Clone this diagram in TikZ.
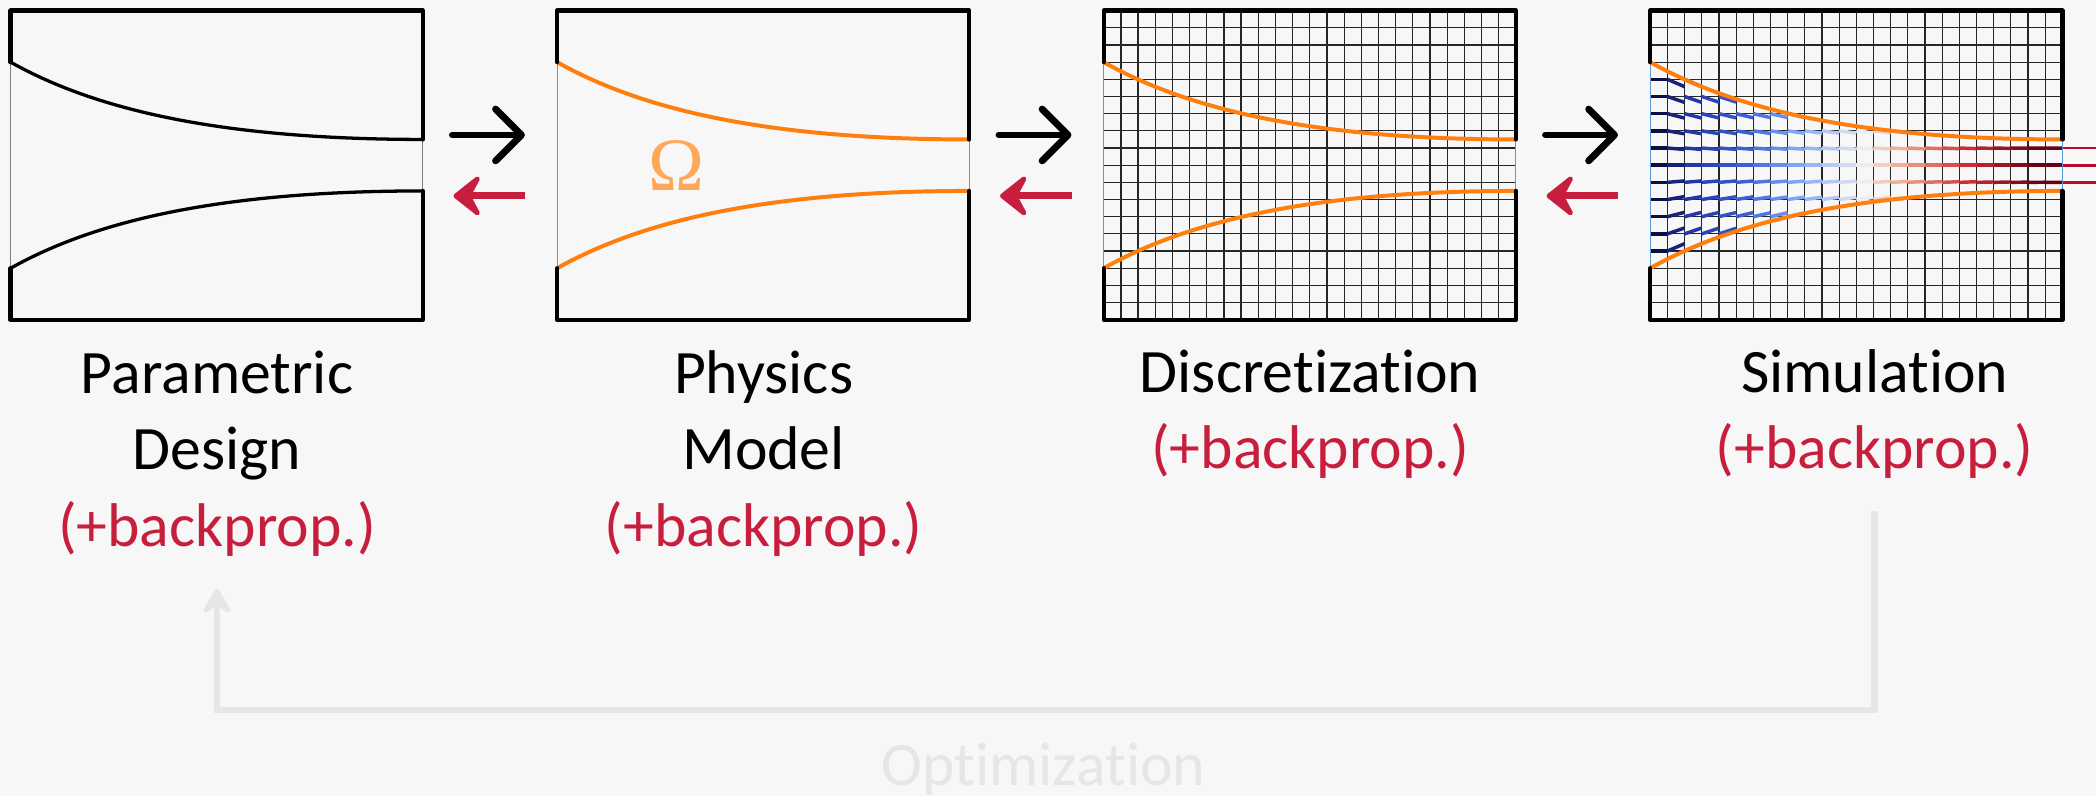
\documentclass[tikz,border=0pt]{standalone}
\usepackage{fontspec}
\setmainfont{Carlito}[Ligatures=NoCommon]
\newfontfamily\omegafont{Liberation Serif}
\usepackage{tikz}
\usetikzlibrary{arrows.meta,positioning,calc}

\definecolor{bgcol}{HTML}{F7F7F7}
\definecolor{bpred}{HTML}{C81E3E}
\definecolor{domorange}{HTML}{FF7F0E}
\definecolor{omegaorange}{HTML}{FFA857}
\definecolor{bndblue}{HTML}{5B9BD5}
\definecolor{optgray}{HTML}{E6E6E6}
\definecolor{outred}{HTML}{B90A32}
% colour stops of the flow field (columns 0,2,5,8,12,14,18,22)
\definecolor{flowA}{RGB}{10,16,70}
\definecolor{flowB}{RGB}{35,55,170}
\definecolor{flowC}{RGB}{60,95,215}
\definecolor{flowD}{RGB}{125,165,248}
\definecolor{flowE}{RGB}{238,236,238}
\definecolor{flowF}{RGB}{242,175,150}
\definecolor{flowG}{RGB}{205,45,55}
\definecolor{flowH}{RGB}{105,0,20}

\newcommand\setflowcolour[1]{%
  \ifnum#1<2 \pgfmathtruncatemacro\mixp{100*#1/2}\colorlet{segcol}{flowB!\mixp!flowA}%
  \else\ifnum#1<5 \pgfmathtruncatemacro\mixp{100*(#1-2)/3}\colorlet{segcol}{flowC!\mixp!flowB}%
  \else\ifnum#1<8 \pgfmathtruncatemacro\mixp{100*(#1-5)/3}\colorlet{segcol}{flowD!\mixp!flowC}%
  \else\ifnum#1<12 \pgfmathtruncatemacro\mixp{100*(#1-8)/4}\colorlet{segcol}{flowE!\mixp!flowD}%
  \else\ifnum#1<14 \pgfmathtruncatemacro\mixp{100*(#1-12)/2}\colorlet{segcol}{flowF!\mixp!flowE}%
  \else\ifnum#1<18 \pgfmathtruncatemacro\mixp{100*(#1-14)/4}\colorlet{segcol}{flowG!\mixp!flowF}%
  \else\ifnum#1<22 \pgfmathtruncatemacro\mixp{100*(#1-18)/4}\colorlet{segcol}{flowH!\mixp!flowG}%
  \else \colorlet{segcol}{flowH}%
  \fi\fi\fi\fi\fi\fi\fi}

% half width of the channel (in cells) at every mesh column
\def\halfwidth{{6.00,5.47,5.00,4.57,4.19,3.85,3.54,3.27,3.02,2.80,2.61,2.43,2.27,2.13,2.01,1.91,1.81,1.74,1.67,1.61,1.575,1.54,1.52,1.507,1.50}}

\tikzset{
  panel/.style={minimum width=8.4cm, minimum height=6.3cm, inner sep=0pt, anchor=north west},
  wall/.style={line width=2.5pt, line cap=round, line join=round},
  profile/.style={line width=2.3pt},
  opening/.style={line width=0.6pt},
  mesh/.style={line width=0.7pt, black!85, step=1},
  streak/.style={line width=2pt},
  fwd/.style={line width=4pt, line cap=round, -{Straight Barb[round,length=15pt,width=30pt]}},
  bwd/.style={bpred, line width=4pt, -{Stealth[round,length=19pt,width=30pt,inset=8pt]}},
  title/.style={font=\fontsize{35.8pt}{44.5pt}\selectfont, align=center, inner sep=0pt, anchor=base},
  optflow/.style={optgray, line width=4pt, -{Stealth[round,length=18pt,width=21pt,inset=7pt]}}
}

\begin{document}
\begin{tikzpicture}[x=0.35cm, y=0.35cm]
  \fill[bgcol] (0,0) rectangle (122.07,-46.36);
  \useasboundingbox (0,0) rectangle (122.07,-46.36);

  % the four panels, 24 x 18 cells each
  \foreach \k in {1,...,4}
    \node[panel] (p\k) at ({0.62+31.83*(\k-1)},-0.62) {};

  % meshes
  \foreach \k in {3,4}
    \draw[mesh, shift={(p\k.north west)}] (0,0) grid (24,-18);

  % flow field
  \begin{scope}[shift={(p4.north west)}]
    \foreach \i in {0,...,23} {
      \pgfmathsetmacro\ha{\halfwidth[\i]}
      \pgfmathsetmacro\hb{\halfwidth[\i+1]}
      \setflowcolour{\i}
      \foreach \d in {-5,...,5} {
        \pgfmathtruncatemacro\inside{abs(\d) < \ha + 0.02}
        \ifnum\inside=1
          \pgfmathsetmacro\ya{-9-(\d)}
          \ifnum\i=0 \pgfmathsetmacro\yb{\ya}\else\pgfmathsetmacro\yb{-9-(\d)*\hb/\ha}\fi
          \draw[streak, segcol] (\i,\ya) -- (\i+1,\yb);
        \fi
      }
    }
    \foreach \d in {-1,0,1}
      \draw[streak, outred, line width=1.7pt] (24,-9-\d) -- (26.5,-9-\d);
  \end{scope}

  % parametric design
  \begin{scope}[shift={(p1.north west)}]
    \draw[opening, gray] (0,-3) -- (0,-15) (24,-7.5) -- (24,-10.5);
    \draw[profile, line width=1.9pt] (0,-3) .. controls (4.8,-5.7) and (12,-7.5) .. (24,-7.5);
    \draw[profile, line width=1.9pt] (0,-15) .. controls (4.8,-12.3) and (12,-10.5) .. (24,-10.5);
    \draw[wall] (0,-3) -- (0,0) -- (24,0) -- (24,-7.5);
    \draw[wall] (0,-15) -- (0,-18) -- (24,-18) -- (24,-10.5);
  \end{scope}

  % domain boundaries
  \foreach \k in {2,3,4} {
    \begin{scope}[shift={(p\k.north west)}]
      \draw[opening, bndblue] (0,-3) -- (0,-15) (24,-7.5) -- (24,-10.5);
      \draw[profile, domorange] (0,-3) .. controls (4.8,-5.7) and (12,-7.5) .. (24,-7.5);
      \draw[profile, domorange] (0,-15) .. controls (4.8,-12.3) and (12,-10.5) .. (24,-10.5);
      \draw[wall] (0,-3) -- (0,0) -- (24,0) -- (24,-7.5);
      \draw[wall] (0,-15) -- (0,-18) -- (24,-18) -- (24,-10.5);
    \end{scope}
  }
  \node[omegaorange, font=\omegafont\fontsize{43.7pt}{50pt}\selectfont, inner sep=0pt]
    (omega) at ([shift={(6.97,-9.03)}]p2.north west) {Ω};

  % forward and backward passes
  \foreach \k [evaluate=\k as \j using int(\k+1)] in {1,2,3} {
    \draw[fwd] ([shift={(1.69,-7.24)}]p\k.north east) -- ([shift={(-1.88,-7.24)}]p\j.north west);
    \draw[bwd] ([shift={(-1.86,-10.79)}]p\j.north west) -- ([shift={(1.75,-10.79)}]p\k.north east);
  }

  % labels, placed by the baseline of their last line
  \coordinate (base2) at (0,-27.31);
  \coordinate (base3) at (0,-31.84);
  \node[title] (t1) at (p1.south |- base3) {Parametric\\Design\\\textcolor{bpred}{(+backprop.)}};
  \node[title] (t2) at (p2.south |- base3) {Physics\\Model\\\textcolor{bpred}{(+backprop.)}};
  \node[title] (t3) at (p3.south |- base2) {Discretization\\\textcolor{bpred}{(+backprop.)}};
  \node[title, xshift=0.37cm] (t4) at (p4.south |- base2) {Simulation\\\textcolor{bpred}{(+backprop.)}};

  % optimization loop
  \node[title, optgray] (opt) at (60.77,-45.76) {Optimization};
  \coordinate (loop) at (0,-41.35);
  \draw[optflow] ([yshift=-0.65cm]t4.south) -- (t4.south |- loop) -- (t1.south |- loop)
    -- ([yshift=-0.65cm]t1.south);
\end{tikzpicture}
\end{document}
